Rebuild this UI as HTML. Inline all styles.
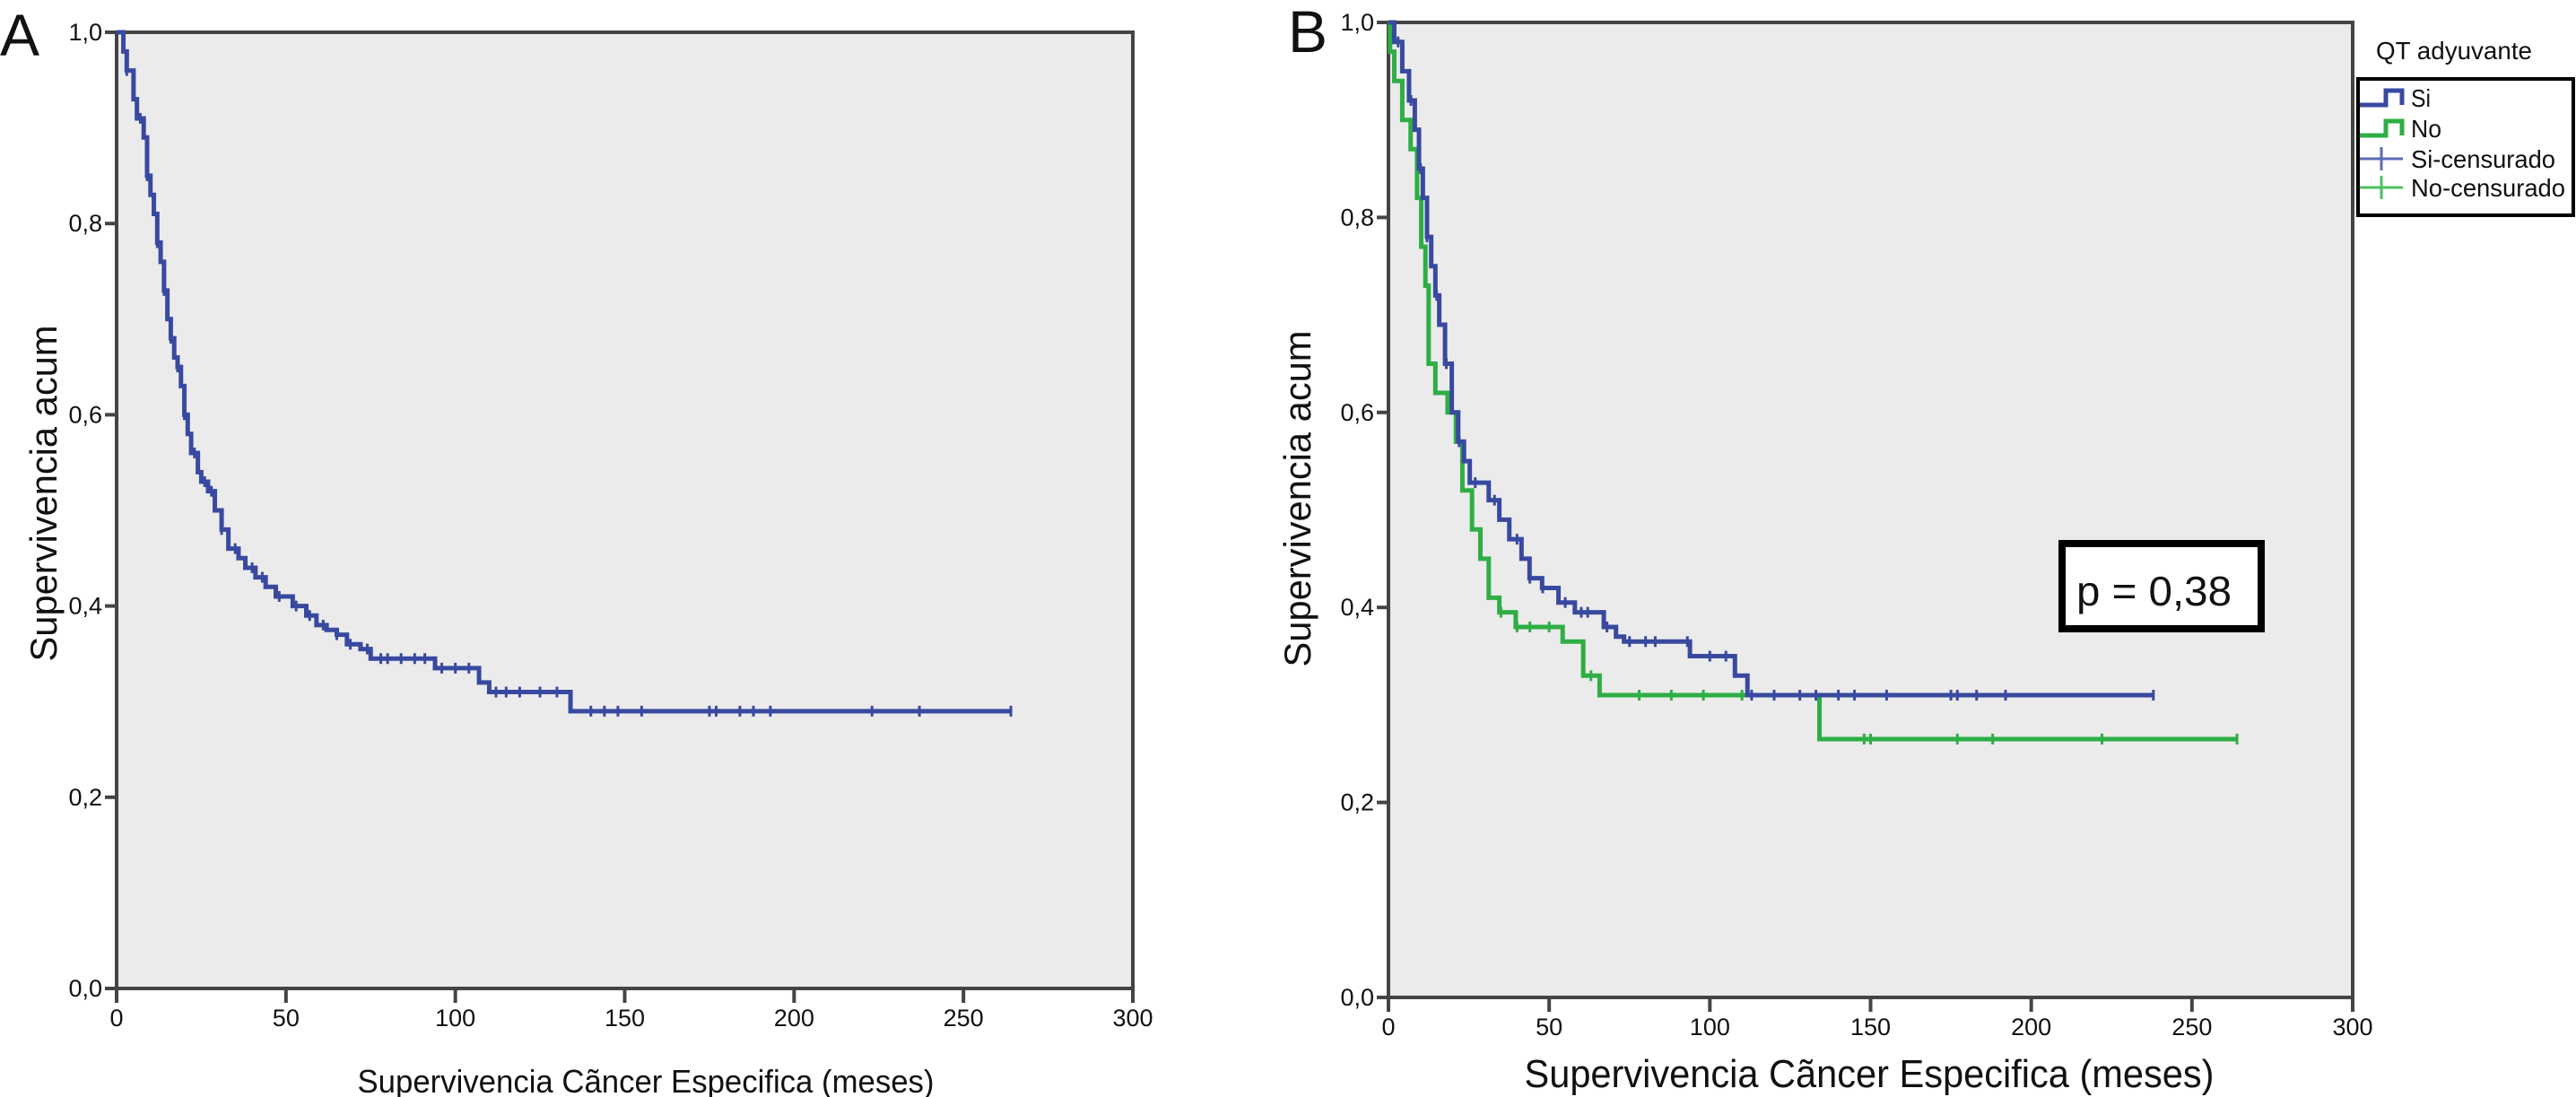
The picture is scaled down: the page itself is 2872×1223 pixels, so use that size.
<!DOCTYPE html>
<html><head><meta charset="utf-8"><style>
html,body{margin:0;padding:0;background:#fff;}
svg{display:block;font-family:"Liberation Sans Narrow","Liberation Sans",sans-serif;}
</style></head><body>
<svg id="fig" width="2872" height="1223" viewBox="0 0 2872 1223">
<g id="gA"></g>
<g id="gB"></g>
</svg>
<script>
// Panel A: overall KM curve
const aTimes = [0,2,3,5,6,8,9,10,11,12,13,14,15,16,17,18,19,20,21,22,24,25,27,29,31,33,36,38,41,44,47,52,56,59,62,65,68,72,75,94,107,110,134];
const aSurv  = [1.0,0.98,0.96,0.93,0.91,0.89,0.85,0.83,0.81,0.78,0.76,0.73,0.70,0.68,0.66,0.65,0.63,0.60,0.58,0.56,0.54,0.53,0.52,0.50,0.48,0.46,0.45,0.44,0.43,0.42,0.41,0.40,0.39,0.38,0.375,0.37,0.36,0.355,0.345,0.335,0.32,0.31,0.29];
const aEnd = 264;
const aCens = [3,7,9,12,14,16,18,20,23,26,28,31,35,40,43,48,53,57,61,65,69,74,78,80,84,88,91,96,100,104,112,115,119,125,130,140,144,148,155,175,177,184,188,193,223,237,264];
// Panel B: Si (blue)
const siTimes = [0,1.8,4.3,6.4,8.2,9.5,10.7,12,13.3,14.6,15.8,17.6,19.7,21.7,23.5,25.3,31.2,34.5,37.6,41.4,43.9,47.8,52.9,58,67,70.8,73.3,93.8,107.8,111.7];
const siSurv  = [1.0,0.98,0.95,0.92,0.89,0.85,0.82,0.78,0.75,0.72,0.69,0.65,0.60,0.57,0.55,0.528,0.51,0.49,0.47,0.45,0.43,0.42,0.405,0.395,0.38,0.37,0.365,0.35,0.33,0.31];
const siEnd = 238;
const siCens = [3,7,10,12,15,18,22,27,33,40,44,48,55,60,62,68,75,80,83,93,100,105,113,120,128,133,140,145,155,175,177,183,192,238];
// Panel B: No (green)
const noTimes = [0,0.5,1.8,4.3,6.9,8.9,10.2,11.5,12.5,14.6,18.4,21,23,26,28.6,31.2,34.5,39.6,54.2,60.6,65.7,134.1];
const noSurv  = [1.0,0.97,0.94,0.90,0.87,0.82,0.77,0.73,0.65,0.62,0.60,0.57,0.52,0.48,0.45,0.41,0.395,0.38,0.365,0.33,0.31,0.265];
const noEnd = 264;
const noCens = [35,40,44,50,63,78,88,98,110,148,150,177,188,222,264];
const xTicks = [0,50,100,150,200,250,300];
const xTickLabels = ["0","50","100","150","200","250","300"];
const yTicks = [0,0.2,0.4,0.6,0.8,1.0];
const yTickLabels = ["0,0","0,2","0,4","0,6","0,8","1,0"];

const NS="http://www.w3.org/2000/svg";
function mk(tag,attrs,parent){const e=document.createElementNS(NS,tag);for(const k in attrs)e.setAttribute(k,attrs[k]);parent.appendChild(e);return e;}
function survAt(times,surv,t){let s=surv[0];for(let i=0;i<times.length;i++){if(times[i]<=t)s=surv[i];}return s;}

function panel(g,cfg){
  const X=t=>cfg.x0+(t/300)*(cfg.x1-cfg.x0);
  const Y=v=>cfg.y0-(v)*(cfg.y0-cfg.y1);
  const bg=mk('rect',{x:cfg.x0,y:cfg.y1,width:cfg.x1-cfg.x0,height:cfg.y0-cfg.y1,fill:'#ebebeb',stroke:'#444','stroke-width':4},g);
  
  
  xTicks.forEach((t,i)=>{
    const l=mk('line',{x1:X(t),x2:X(t),y1:cfg.y0,y2:cfg.y0+16,stroke:'#444','stroke-width':4},g);
    
    
    const tx=mk('text',{x:X(t),y:cfg.y0+42,'font-size':27,'text-anchor':'middle',fill:'#111'},g);
    tx.textContent=xTickLabels[i];
    
    
  });
  yTicks.forEach((v,i)=>{
    const l=mk('line',{x1:cfg.x0-13,x2:cfg.x0,y1:Y(v),y2:Y(v),stroke:'#444','stroke-width':4},g);
    
    
    const tx=mk('text',{x:cfg.x0-16,y:Y(v)+9,'font-size':27,'text-anchor':'end',fill:'#111'},g);
    tx.textContent=yTickLabels[i];
    
    
  });
  cfg.series.forEach(s=>{
    let d='M'+X(s.times[0])+' '+Y(s.surv[0]);
    for(let i=1;i<s.times.length;i++){d+=' H'+X(s.times[i])+' V'+Y(s.surv[i]);}
    d+=' H'+X(s.end);
    const p=mk('path',{d:d,fill:'none',stroke:s.color,'stroke-width':5},g);
    
    
    s.cens.forEach(t=>{
      const v=survAt(s.times,s.surv,t);
      const c=mk('line',{x1:X(t),x2:X(t),y1:Y(v)-6,y2:Y(v)+6,stroke:s.color,'stroke-width':3},g);
      
      
    });
  });
  const xt=mk('text',{x:cfg.xtx,y:cfg.xty,'font-size':cfg.xts,'text-anchor':'middle',fill:'#111',textLength:cfg.xtl,lengthAdjust:'spacingAndGlyphs'},g);
  xt.textContent='Supervivencia Cãncer Especifica (meses)';
  
  
  const yt=mk('text',{x:0,y:0,'font-size':cfg.yts,'text-anchor':'middle',fill:'#111',textLength:cfg.ytl,lengthAdjust:'spacingAndGlyphs',transform:'translate('+cfg.ytx+','+cfg.yty+') rotate(-90)'},g);
  yt.textContent='Supervivencia acum';
  
  
  const lt=mk('text',{x:cfg.lx,y:cfg.ly,'font-size':66,fill:'#111'},g);
  lt.textContent=cfg.letter;
  
  
  return {X,Y};
}

panel(document.getElementById('gA'),{x0:130,x1:1263,y0:1102,y1:36,letter:'A',lx:0,ly:62,
  xtx:720,xty:1218,xts:36,xtl:643,ytx:63,yty:550,yts:42,ytl:375,
  series:[{name:'overall',times:aTimes,surv:aSurv,end:aEnd,cens:aCens,color:'#3949a0'}]});
panel(document.getElementById('gB'),{x0:1548,x1:2623,y0:1112,y1:25,letter:'B',lx:1436,ly:58,
  xtx:2084,xty:1212,xts:44,xtl:769,ytx:1461,yty:556,yts:42,ytl:375,
  series:[{name:'no',times:noTimes,surv:noSurv,end:noEnd,cens:noCens,color:'#2eae44'},
          {name:'si',times:siTimes,surv:siSurv,end:siEnd,cens:siCens,color:'#3949a0'}]});

const gB=document.getElementById('gB');
const pb=mk('rect',{x:2299,y:606,width:222,height:95,fill:'#fff',stroke:'#000','stroke-width':8},gB);


const pt=mk('text',{x:2315,y:675,'font-size':46,fill:'#111',textLength:173,lengthAdjust:'spacingAndGlyphs'},gB);
pt.textContent='p = 0,38';



const lg=mk('g',{},gB);


const ltit=mk('text',{x:2649,y:66,'font-size':28,fill:'#111',textLength:174,lengthAdjust:'spacingAndGlyphs'},lg);
ltit.textContent='QT adyuvante';


const lb=mk('rect',{x:2629,y:88,width:240,height:152,fill:'#fff',stroke:'#000','stroke-width':4},lg);


const legItems=[{t:'Si',c:'#3949a0',step:true,y:109,w:22},{t:'No',c:'#2eae44',step:true,y:143,w:34},{t:'Si-censurado',c:'#5a6cb8',step:false,y:177,w:161},{t:'No-censurado',c:'#4cc060',step:false,y:209,w:172}];
legItems.forEach(it=>{
  if(it.step){
    const s=mk('path',{d:'M2631 '+(it.y+8)+' H2660 V'+(it.y-8)+' H2678 V'+(it.y+8),fill:'none',stroke:it.c,'stroke-width':5},lg);
    
    
  } else {
    const s=mk('path',{d:'M2631 '+it.y+' H2679 M2655 '+(it.y-13)+' V'+(it.y+13),fill:'none',stroke:it.c,'stroke-width':3},lg);
    
    
  }
  const tx=mk('text',{x:2688,y:it.y+10,'font-size':28,fill:'#111',textLength:it.w,lengthAdjust:'spacingAndGlyphs'},lg);
  tx.textContent=it.t;
  
  
});
</script>
</body></html>
